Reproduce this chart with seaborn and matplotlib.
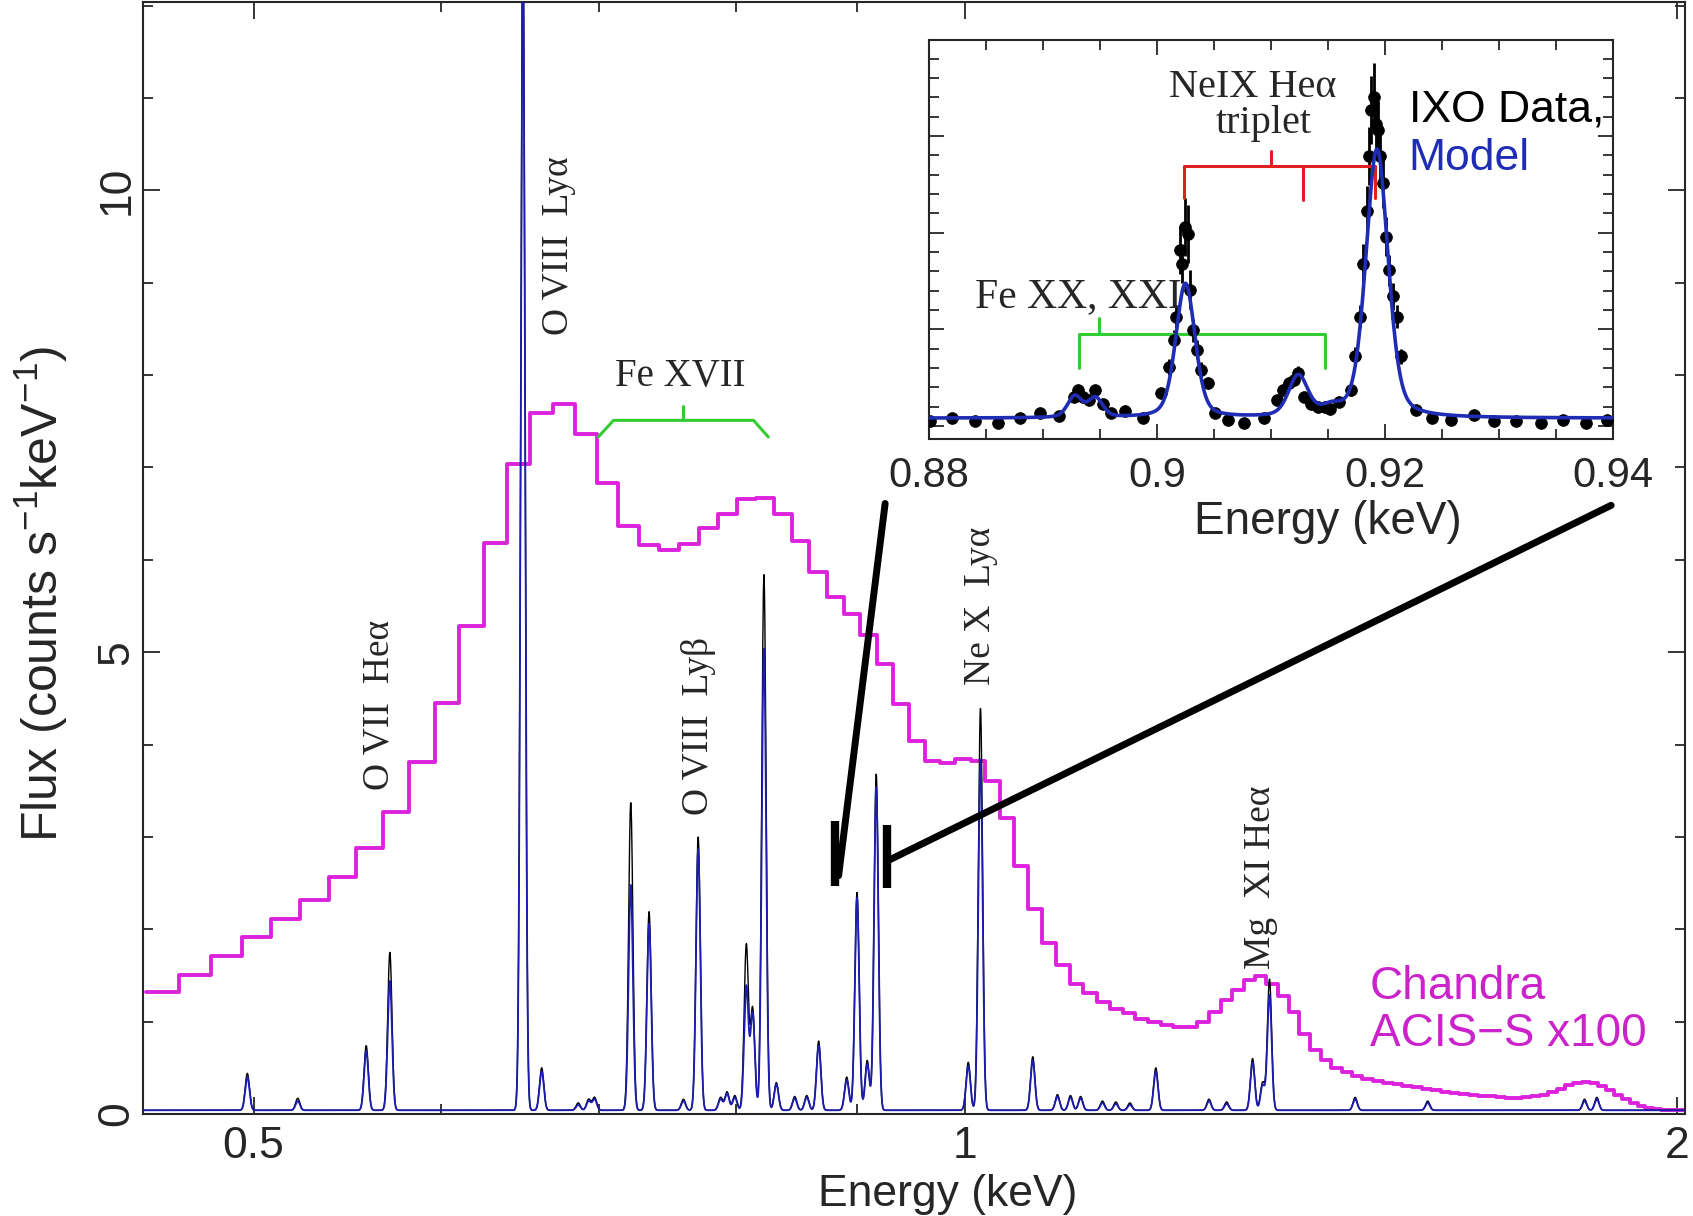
import numpy as np
import pandas as pd
import seaborn as sns
import matplotlib.pyplot as plt
from matplotlib.ticker import FixedLocator, FixedFormatter, MultipleLocator, NullFormatter

# ---- Chandra ACIS-S x100 (14.6 eV channels) ----
ACIS_START = 0.4504
ACIS_WIDTH = 0.0146
acis_flux = [1.32, 1.51, 1.71, 1.92, 2.11, 2.32, 2.57, 2.88, 3.27, 3.81,
             4.45, 5.28, 6.18, 7.04, 7.59, 7.69, 7.36, 6.83, 6.37, 6.16,
             6.11, 6.17, 6.34, 6.50, 6.66, 6.67, 6.50, 6.20, 5.87, 5.60,
             5.41, 5.19, 4.87, 4.44, 4.04, 3.82, 3.80, 3.84, 3.82, 3.61,
             3.20, 2.69, 2.22, 1.85, 1.61, 1.41, 1.31, 1.21, 1.14, 1.09,
             1.03, 1.00, 0.96, 0.94, 0.94, 1.00, 1.10, 1.23, 1.34, 1.45,
             1.49, 1.41, 1.28, 1.10, 0.87, 0.69, 0.58, 0.50, 0.45, 0.41,
             0.38, 0.36, 0.34, 0.32, 0.30, 0.29, 0.27, 0.26, 0.24, 0.23,
             0.22, 0.21, 0.20, 0.19, 0.18, 0.17, 0.17, 0.18, 0.19, 0.21,
             0.24, 0.27, 0.31, 0.34, 0.35, 0.34, 0.30, 0.26, 0.21, 0.16,
             0.12, 0.09, 0.07, 0.05, 0.04, 0.04, 0.04]

# ---- IXO line list (keV), model peak, data peak ----
ixo_energy = [0.497, 0.522, 0.558, 0.571, 0.650, 0.662, 0.686, 0.693, 0.697, 0.722,
              0.735, 0.760, 0.771, 0.788, 0.793, 0.799, 0.808, 0.813, 0.822, 0.832,
              0.847, 0.857, 0.867, 0.891, 0.900, 0.909, 0.917, 1.003, 1.015, 1.068,
              1.094, 1.108, 1.119, 1.143, 1.158, 1.174, 1.204, 1.268, 1.290, 1.323,
              1.336, 1.345, 1.462, 1.569, 1.828, 1.850]
ixo_model = [0.36, 0.10, 0.64, 1.40, 12.5, 0.42, 0.06, 0.10, 0.12, 2.44,
             2.02, 0.10, 2.83, 0.12, 0.18, 0.14, 1.34, 1.05, 5.00, 0.28,
             0.13, 0.14, 0.70, 0.33, 2.30, 0.50, 3.50, 0.48, 3.80, 0.54,
             0.15, 0.14, 0.13, 0.08, 0.07, 0.06, 0.42, 0.10, 0.07, 0.52,
             0.27, 1.25, 0.12, 0.08, 0.10, 0.12]
ixo_data = [0.40, 0.13, 0.70, 1.71, 12.8, 0.46, 0.08, 0.12, 0.14, 3.33,
            2.15, 0.12, 2.96, 0.14, 0.20, 0.16, 1.79, 1.10, 5.80, 0.30,
            0.15, 0.16, 0.75, 0.36, 2.36, 0.54, 3.64, 0.52, 4.35, 0.58,
            0.17, 0.16, 0.15, 0.10, 0.09, 0.08, 0.46, 0.12, 0.09, 0.56,
            0.30, 1.42, 0.14, 0.10, 0.12, 0.14]
IXO_CONT = 0.04
IXO_RES = 0.0021  # sigma / E

# ---- inset: Ne IX triplet region ----
inset_energy = [0.8801, 0.8820, 0.8840, 0.8861, 0.8880, 0.8897, 0.8914, 0.8927, 0.8931, 0.8935,
                0.8940, 0.8946, 0.8953, 0.8960, 0.8972, 0.8988, 0.9004, 0.9011, 0.9015, 0.9017,
                0.9020, 0.9022, 0.9025, 0.9027, 0.9029, 0.9032, 0.9035, 0.9039, 0.9045, 0.9051,
                0.9062, 0.9076, 0.9094, 0.9105, 0.9111, 0.9116, 0.9120, 0.9124, 0.9129, 0.9135,
                0.9141, 0.9147, 0.9152, 0.9160, 0.9170, 0.9174, 0.9178, 0.9181, 0.9184, 0.9186,
                0.9188, 0.9190, 0.9192, 0.9194, 0.9196, 0.9198, 0.9201, 0.9204, 0.9207, 0.9211,
                0.9214, 0.9227, 0.9241, 0.9258, 0.9278, 0.9296, 0.9315, 0.9337, 0.9356, 0.9376,
                0.9395]
inset_counts = [0.05, 0.08, 0.05, 0.03, 0.08, 0.13, 0.10, 0.30, 0.37, 0.30,
                0.27, 0.37, 0.23, 0.13, 0.15, 0.08, 0.34, 0.61, 0.89, 1.13,
                1.82, 1.68, 2.06, 1.99, 1.41, 0.99, 0.79, 0.58, 0.44, 0.13,
                0.06, 0.03, 0.08, 0.27, 0.37, 0.44, 0.48, 0.55, 0.30, 0.23,
                0.20, 0.20, 0.18, 0.25, 0.37, 0.72, 1.13, 1.68, 2.23, 2.79,
                3.27, 3.41, 3.13, 3.06, 2.79, 2.51, 1.96, 1.61, 1.34, 1.13,
                0.72, 0.17, 0.08, 0.06, 0.11, 0.05, 0.05, 0.03, 0.06, 0.03,
                0.06]
inset_err = [0.03, 0.03, 0.03, 0.03, 0.03, 0.03, 0.03, 0.05, 0.05, 0.05,
             0.05, 0.05, 0.05, 0.05, 0.05, 0.05, 0.05, 0.08, 0.10, 0.12,
             0.25, 0.20, 0.30, 0.30, 0.20, 0.12, 0.10, 0.08, 0.06, 0.04,
             0.03, 0.03, 0.03, 0.05, 0.06, 0.06, 0.06, 0.07, 0.05, 0.04,
             0.04, 0.04, 0.04, 0.04, 0.06, 0.10, 0.12, 0.20, 0.25, 0.30,
             0.35, 0.35, 0.30, 0.30, 0.28, 0.25, 0.20, 0.16, 0.14, 0.12,
             0.08, 0.03, 0.03, 0.03, 0.03, 0.03, 0.03, 0.03, 0.03, 0.03,
             0.03]
inset_line_energy = [0.8928, 0.8946, 0.9025, 0.9124, 0.9153, 0.9193]
inset_line_amp = [0.22, 0.20, 1.39, 0.42, 0.08, 2.78]
inset_line_fwhm = [0.0015, 0.0015, 0.0020, 0.0020, 0.0020, 0.0023]
INSET_CONT = 0.08

# ---- annotations ----
main_labels = [("O VIII  Ly\u03b1", 0.673, 9.40), ("O VII  He\u03b1", 0.565, 4.43),
               ("O VIII  Ly\u03b2", 0.771, 4.20), ("Ne X  Ly\u03b1", 1.015, 5.50),
               ("Mg  XI He\u03b1", 1.333, 2.56)]

MAGENTA = "#dd22dd"
BLUE = "#1c1cae"
GREEN = "#33cc33"
SERIF = ["Liberation Serif", "DejaVu Serif"]

sns.set_theme(style="ticks")
plt.rcParams["font.family"] = ["Liberation Sans", "DejaVu Sans"]
plt.rcParams["mathtext.default"] = "regular"
plt.rcParams["axes.linewidth"] = 1.5

fig = plt.figure(figsize=(16.93, 12.16), dpi=100)
ax = fig.add_axes([0.0845, 0.0839, 0.9108, 0.9145])

# Chandra histogram
edges = ACIS_START + ACIS_WIDTH * np.arange(len(acis_flux) + 1)
acis = pd.DataFrame({"E": edges, "flux": acis_flux + [acis_flux[-1]]})
sns.lineplot(data=acis, x="E", y="flux", ax=ax, color=MAGENTA, lw=2.8,
             drawstyle="steps-post", sort=False, zorder=2)

# IXO spectrum: data (black) and model (blue)
grid = np.geomspace(0.449, 2.016, 8000)
spec_model = np.full_like(grid, IXO_CONT)
spec_data = np.full_like(grid, IXO_CONT)
for e0, hm, hd in zip(ixo_energy, ixo_model, ixo_data):
    prof = np.exp(-0.5 * ((grid - e0) / (e0 * IXO_RES)) ** 2)
    spec_model += hm * prof
    spec_data += hd * prof
ixo = pd.DataFrame({"E": grid, "data": spec_data, "model": spec_model})
sns.lineplot(data=ixo, x="E", y="data", ax=ax, color="black", lw=1.0, zorder=3)
sns.lineplot(data=ixo, x="E", y="model", ax=ax, color=BLUE, lw=1.3, zorder=4)

ax.set_xscale("log")
ax.set_xlim(0.449, 2.016)
ax.set_ylim(0, 12.04)
ax.xaxis.set_major_locator(FixedLocator([0.5, 1, 2]))
ax.xaxis.set_major_formatter(FixedFormatter(["0.5", "1", "2"]))
ax.xaxis.set_minor_locator(FixedLocator([0.6, 0.7, 0.8, 0.9]))
ax.xaxis.set_minor_formatter(NullFormatter())
ax.yaxis.set_major_locator(FixedLocator([0, 5, 10]))
ax.yaxis.set_minor_locator(MultipleLocator(1))
ax.tick_params(which="both", direction="in", top=True, right=True, width=1.3,
               labelsize=32)
ax.tick_params(which="major", length=12)
ax.tick_params(which="minor", length=7)
ax.tick_params(axis="x", pad=9)
ax.tick_params(axis="y", labelrotation=90, pad=4)
for t in ax.get_yticklabels():
    t.set_va("center")
ax.set_xlabel("Energy (keV)", fontsize=32)
ax.set_ylabel("Flux (counts s$^{-1}$keV$^{-1}$)", fontsize=36)
ax.xaxis.label.set_va("center")
ax.yaxis.label.set_va("center")
ax.yaxis.label.set_ha("center")
ax.xaxis.set_label_coords(0.522, -0.072)
ax.yaxis.set_label_coords(-0.066, 0.468)

for txt, e, v in main_labels:
    ax.text(e, v, txt, rotation=90, ha="center", va="center", fontsize=27,
            family=SERIF, zorder=5)
ax.text(0.758, 7.98, "Fe XVII", ha="center", va="center", fontsize=28, family=SERIF)
ax.plot([0.6995, 0.7100, 0.8137, 0.8255], [7.33, 7.51, 7.51, 7.33], color=GREEN, lw=2.2)
ax.plot([0.760, 0.760], [7.51, 7.67], color=GREEN, lw=2.2)
ax.text(1.483, 1.12, "Chandra\nACIS\u2212S x100", ha="left", va="center",
        fontsize=33, color="#cc22cc", linespacing=1.1)

# zoom markers
ax.plot([0.881, 0.881], [2.47, 3.17], color="black", lw=6, solid_capstyle="butt", zorder=6)
ax.plot([0.927, 0.927], [2.45, 3.13], color="black", lw=6, solid_capstyle="butt", zorder=6)
ax.plot([0.884, 0.925], [2.58, 6.61], color="black", lw=5, zorder=6, clip_on=False)
ax.plot([0.927, 1.876], [2.74, 6.59], color="black", lw=5, zorder=6, clip_on=False)

# ---- inset ----
ax2 = fig.add_axes([0.5487, 0.639, 0.404, 0.3285])
ax2.set_facecolor("white")
xi = np.linspace(0.88, 0.94, 1500)
model_i = np.full_like(xi, INSET_CONT)
for c, a, w in zip(inset_line_energy, inset_line_amp, inset_line_fwhm):
    lor = 1.0 / (1.0 + ((xi - c) / (w / 2)) ** 2)
    gau = np.exp(-4 * np.log(2) * ((xi - c) / w) ** 2)
    model_i += a * (0.35 * lor + 0.65 * gau)
ax2.errorbar(inset_energy, inset_counts, yerr=inset_err, fmt="none", ecolor="black",
             elinewidth=2.0, zorder=2)
sns.scatterplot(x=inset_energy, y=inset_counts, ax=ax2, color="black", s=70,
                edgecolor="black", zorder=3)
sns.lineplot(x=xi, y=model_i, ax=ax2, color="#1f2db4", lw=2.6, zorder=4)

ax2.set_xlim(0.88, 0.94)
ax2.set_ylim(-0.135, 4.0)
ax2.xaxis.set_major_locator(FixedLocator([0.88, 0.90, 0.92, 0.94]))
ax2.xaxis.set_major_formatter(FixedFormatter(["0.88", "0.9", "0.92", "0.94"]))
ax2.xaxis.set_minor_locator(MultipleLocator(0.005))
ax2.yaxis.set_major_locator(MultipleLocator(1))
ax2.yaxis.set_minor_locator(MultipleLocator(0.2))
ax2.yaxis.set_major_formatter(NullFormatter())
ax2.tick_params(which="both", direction="in", top=True, right=True, width=1.3,
                labelsize=30)
ax2.tick_params(which="major", length=11, pad=12)
ax2.tick_params(which="minor", length=7)
ax2.set_xlabel("Energy (keV)", fontsize=33)
ax2.xaxis.label.set_va("center")
ax2.xaxis.set_label_coords(0.583, -0.209)

# bracket annotations in inset
RED = "#e02020"
ax2.plot([0.9024, 0.9024, 0.9191, 0.9191], [2.36, 2.69, 2.69, 2.36], color=RED, lw=2.2)
ax2.plot([0.9128, 0.9128], [2.69, 2.34], color=RED, lw=2.2)
ax2.plot([0.9100, 0.9100], [2.69, 2.85], color=RED, lw=2.2)
ax2.plot([0.8932, 0.8932, 0.9147, 0.9147], [0.60, 0.95, 0.95, 0.60], color=GREEN, lw=2.2)
ax2.plot([0.8949, 0.8949], [0.95, 1.12], color=GREEN, lw=2.2)
ax2.text(0.9084, 3.50, "NeIX He\u03b1", ha="center", va="center", fontsize=29, family=SERIF)
ax2.text(0.9094, 3.13, "triplet", ha="center", va="center", fontsize=29, family=SERIF)
ax2.text(0.8931, 1.34, "Fe XX, XXI", ha="center", va="center", fontsize=30, family=SERIF)
ax2.text(0.9221, 3.27, "IXO Data,", ha="left", va="center", fontsize=32, color="black")
ax2.text(0.9221, 2.77, "Model", ha="left", va="center", fontsize=32, color="#1f2db4")

fig.savefig("out.png", dpi=100)
